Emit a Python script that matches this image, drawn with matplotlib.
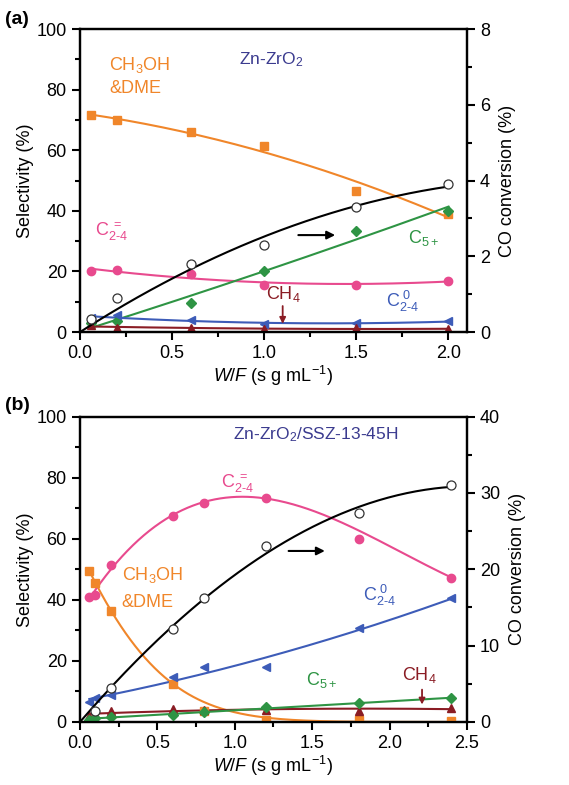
import numpy as np
import matplotlib
matplotlib.use("Agg")
import matplotlib.pyplot as plt
from matplotlib.ticker import MultipleLocator

plt.rcParams['font.family'] = ['Liberation Sans', 'DejaVu Sans']
plt.rcParams['mathtext.fontset'] = 'custom'
plt.rcParams['mathtext.rm'] = 'Liberation Sans'
plt.rcParams['mathtext.it'] = 'Liberation Sans:italic'
plt.rcParams['mathtext.bf'] = 'Liberation Sans:bold'

# ---------------- data: panel (a) Zn-ZrO2 ----------------
wf_a = [0.06, 0.2, 0.6, 1.0, 1.5, 2.0]
meoh_a = [71.5, 70.0, 66.0, 61.5, 46.5, 39.0]
c24ene_a = [20.0, 20.5, 19.0, 15.5, 15.5, 17.0]
c5_a = [3.0, 3.5, 9.5, 20.0, 33.5, 40.0]
c24ane_a = [4.5, 5.5, 4.0, 2.5, 3.0, 3.5]
ch4_a = [2.2, 1.2, 1.5, 1.0, 1.2, 1.0]
co_a = [0.35, 0.9, 1.8, 2.3, 3.3, 3.9]

# ---------------- data: panel (b) Zn-ZrO2/SSZ-13-45H ----------------
wf_b = [0.06, 0.1, 0.2, 0.6, 0.8, 1.2, 1.8, 2.4]
meoh_b = [49.5, 45.5, 36.5, 12.5, 3.5, 0.5, 0.5, 0.3]
c24ene_b = [41.0, 41.5, 51.5, 67.5, 71.7, 73.5, 60.0, 47.3]
c24ane_b = [6.6, 8.0, 8.8, 14.6, 18.0, 17.9, 30.7, 40.5]
c5_b = [0.6, 1.4, 1.6, 2.4, 3.3, 4.9, 6.2, 7.7]
ch4_b = [2.0, 2.5, 3.5, 4.4, 3.8, 4.0, 3.6, 4.6]
wf_co_b = [0.1, 0.2, 0.6, 0.8, 1.2, 1.8, 2.4]
co_b = [1.4, 4.4, 12.2, 16.2, 23.0, 27.4, 31.0]

C_OR = '#f0862a'
C_PK = '#e84a8e'
C_GR = '#2e9444'
C_BL = '#3d5cb8'
C_DR = '#8a1c24'
C_TX = '#3b3b8f'

fig = plt.figure(figsize=(5.69, 7.85), dpi=100)
axA = fig.add_axes([0.1406, 0.577, 0.680, 0.386])
axB = fig.add_axes([0.1406, 0.0803, 0.680, 0.389])


def polycurve(x, y, deg, x0, x1, w=None):
    p = np.polyfit(x, y, deg, w=w)
    xs = np.linspace(x0, x1, 200)
    return xs, np.polyval(p, xs)


def origin_curve(x, y, x1, deg=2):
    x = np.asarray(x, float)
    y = np.asarray(y, float)
    A = np.vstack([x ** k for k in range(1, deg + 1)]).T
    c, *_ = np.linalg.lstsq(A, y, rcond=None)
    xs = np.linspace(0, x1, 200)
    ys = sum(c[k - 1] * xs ** k for k in range(1, deg + 1))
    return xs, ys


def series(ax, x, y, color, marker, deg, ms=6, fit=None, w=None):
    if fit is None:
        xs, ys = polycurve(x, y, deg, min(x), max(x), w=w)
    else:
        xs, ys = fit
    ax.plot(xs, ys, color=color, lw=1.5, zorder=3)
    ax.plot(x, y, ls='none', marker=marker, color=color, ms=ms,
            mec=color, zorder=4)


def style(ax, ax2, xmax, y2max, y2minor):
    ax.set_xlim(0, xmax)
    ax.set_ylim(0, 100)
    ax2.set_ylim(0, y2max)
    ax.xaxis.set_major_locator(MultipleLocator(0.5))
    ax.xaxis.set_minor_locator(MultipleLocator(0.25))
    ax.yaxis.set_major_locator(MultipleLocator(20))
    ax.yaxis.set_minor_locator(MultipleLocator(10))
    ax2.yaxis.set_major_locator(MultipleLocator(y2minor * 2))
    ax2.yaxis.set_minor_locator(MultipleLocator(y2minor))
    ax.xaxis.set_major_formatter(matplotlib.ticker.FormatStrFormatter('%.1f'))
    for a in (ax, ax2):
        for s in a.spines.values():
            s.set_linewidth(1.6)
        a.tick_params(which='major', length=6, width=1.5, direction='out', labelsize=13)
        a.tick_params(which='minor', length=3.5, width=1.5, direction='out')
    ax.tick_params(axis='y', which='both', right=False)
    ax.tick_params(axis='x', which='both', top=False)
    ax.set_ylabel('Selectivity (%)', fontsize=13, labelpad=2)
    ax2.set_ylabel('CO conversion (%)', fontsize=13, labelpad=6)
    ax.set_xlabel(r'$W/F$ (s g mL$^{-1}$)', fontsize=13, labelpad=1)


ENE = r'C$_{\text{2-4}}^{\ =}$'
ANE = r'C$_{\text{2-4}}^{\ 0}$'

# ---------------- panel (a) ----------------
axA2 = axA.twinx()
axA2.set_position(axA.get_position())
series(axA, wf_a, meoh_a, C_OR, 's', 2)
series(axA, wf_a, c24ene_a, C_PK, 'o', 2)
series(axA, wf_a, c5_a, C_GR, 'D', 2, ms=5.5)
series(axA, wf_a, c24ane_a, C_BL, '<', 2)
series(axA, wf_a, ch4_a, C_DR, '^', 2)
xs, ys = origin_curve(wf_a, co_a, 2.0, deg=2)
axA2.plot(xs, ys, color='black', lw=1.5, zorder=3)
axA2.plot(wf_a, co_a, ls='none', marker='o', mfc='white', mec='#333333',
          ms=6.5, mew=0.9, zorder=4)
style(axA, axA2, 2.1, 8, 1)

axA.text(1.04, 90, r'Zn-ZrO$_2$', color=C_TX, fontsize=12.5, ha='center', va='center')
axA.text(0.16, 88, r'CH$_3$OH', color=C_OR, fontsize=13, ha='left', va='center')
axA.text(0.16, 80.5, '&DME', color=C_OR, fontsize=13, ha='left', va='center')
axA.text(0.08, 33, ENE, color=C_PK, fontsize=13, ha='left', va='center')
axA.text(1.78, 31, r'C$_{5+}$', color=C_GR, fontsize=13, ha='left', va='center')
axA.text(1.01, 12.5, r'CH$_4$', color=C_DR, fontsize=13, ha='left', va='center')
axA.text(1.66, 10, ANE, color=C_BL, fontsize=13, ha='left', va='center')
axA.annotate('', xy=(1.40, 32), xytext=(1.17, 32),
             arrowprops=dict(arrowstyle='-|>', color='black', lw=1.5, mutation_scale=12))
axA.annotate('', xy=(1.10, 1.8), xytext=(1.10, 9.5),
             arrowprops=dict(arrowstyle='-|>', color=C_DR, lw=1.3, mutation_scale=9))
fig.text(0.008, 0.975, '(a)', fontsize=14, fontweight='bold', ha='left', va='center')

# ---------------- panel (b) ----------------
axB2 = axB.twinx()
axB2.set_position(axB.get_position())
# orange: decay fit in log space
xo = np.array(wf_b[:4]); yo = np.log(np.array(meoh_b[:4]))
po = np.polyfit(xo, yo, 2)
xs_o = np.linspace(min(wf_b), max(wf_b), 300)
ys_o = np.exp(np.polyval(po, xs_o))
series(axB, wf_b, meoh_b, C_OR, 's', 2, fit=(xs_o, ys_o))
series(axB, wf_b, c24ene_b, C_PK, 'o', 3, w=[1, 1, 1, 1, 1, 1, 0.15, 1])
series(axB, wf_b, c24ane_b, C_BL, '<', 2)
series(axB, wf_b, ch4_b, C_DR, '^', 2)
series(axB, wf_b, c5_b, C_GR, 'D', 1, ms=5.5)
xs, ys = origin_curve(wf_co_b, co_b, 2.4, deg=3)
axB2.plot(xs, ys, color='black', lw=1.5, zorder=3)
axB2.plot(wf_co_b, co_b, ls='none', marker='o', mfc='white', mec='#333333',
          ms=6.5, mew=0.9, zorder=4)
style(axB, axB2, 2.5, 40, 5)

axB.text(1.52, 94, r'Zn-ZrO$_2$/SSZ-13-45H', color=C_TX, fontsize=12.5, ha='center', va='center')
axB.text(0.91, 78, ENE, color=C_PK, fontsize=13, ha='left', va='center')
axB.text(0.27, 48, r'CH$_3$OH', color=C_OR, fontsize=13, ha='left', va='center')
axB.text(0.27, 39, '&DME', color=C_OR, fontsize=13, ha='left', va='center')
axB.text(1.83, 41.5, ANE, color=C_BL, fontsize=13, ha='left', va='center')
axB.text(1.46, 13.8, r'C$_{5+}$', color=C_GR, fontsize=13, ha='left', va='center')
axB.text(2.08, 15.5, r'CH$_4$', color=C_DR, fontsize=13, ha='left', va='center')
axB.annotate('', xy=(1.60, 56), xytext=(1.33, 56),
             arrowprops=dict(arrowstyle='-|>', color='black', lw=1.5, mutation_scale=12))
axB.annotate('', xy=(2.21, 4.8), xytext=(2.21, 11.5),
             arrowprops=dict(arrowstyle='-|>', color=C_DR, lw=1.3, mutation_scale=9))
fig.text(0.008, 0.483, '(b)', fontsize=14, fontweight='bold', ha='left', va='center')

fig.savefig('out.png', dpi=100)
